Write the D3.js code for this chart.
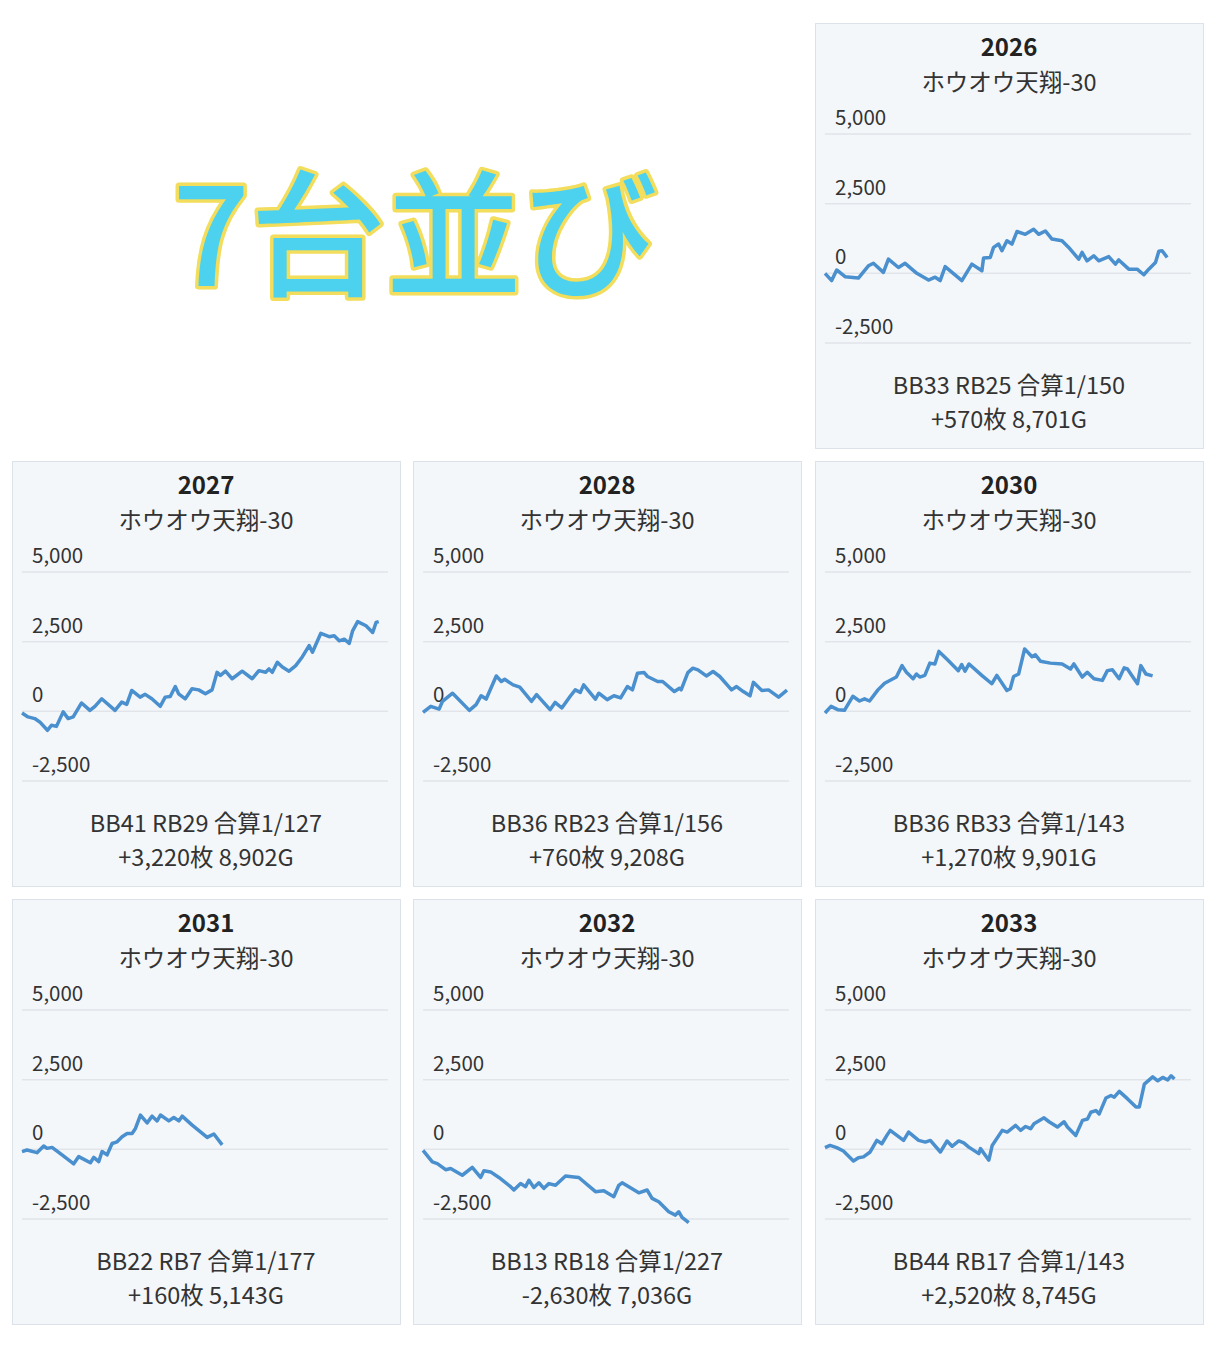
<!DOCTYPE html>
<html>
<head>
<meta charset="utf-8">
<script src="https://cdn.jsdelivr.net/npm/d3@7"></script>
<style>
  body { margin: 0; background: #fff; }
  text { font-family: "Noto Sans CJK JP", "Noto Sans", sans-serif; }
</style>
</head>
<body>
<svg id="chart" width="1216" height="1346"></svg>
<script>
// machines (panel order) and footer stats
var machines = ["2026", "2027", "2028", "2030", "2031", "2032", "2033"];
var modelName = "ホウオウ天翔-30";
var stats1 = ["BB33 RB25 合算1/150", "BB41 RB29 合算1/127", "BB36 RB23 合算1/156", "BB36 RB33 合算1/143",
              "BB22 RB7 合算1/177", "BB13 RB18 合算1/227", "BB44 RB17 合算1/143"];
var stats2 = ["+570枚 8,701G", "+3,220枚 8,902G", "+760枚 9,208G", "+1,270枚 9,901G",
              "+160枚 5,143G", "-2,630枚 7,036G", "+2,520枚 8,745G"];
var yTicks = [5000, 2500, 0, -2500];
// how far along the x axis each line ends
var endFrac = [0.94, 0.98, 1.0, 0.90, 0.55, 0.73, 0.96];

// series: [progress, 枚]
var s2026 = [[30,0],[50,-260],[65,120],[90,-120],[130,-170],[160,270],[175,360],[205,35],[220,510],[250,210],[270,360],[305,0],[340,-240],[360,-140],[375,-260],[390,240],[440,-260],[470,330],[500,95],[505,550],[525,570],[535,930],[550,1050],[560,810],[575,1170],[590,1050],[605,1500],[630,1400],[655,1580],[670,1400],[690,1520],[710,1230],[740,1170],[760,930],[790,510],[800,750],[815,450],[835,630],[850,450],[880,600],[900,330],[910,480],[940,150],[965,150],[985,-50],[1000,150],[1020,390],[1030,790],[1040,810],[1055,570]];
var s2027 = [[32,-60],[50,-200],[70,-260],[85,-380],[108,-680],[120,-500],[135,-540],[155,-20],[170,-260],[185,-200],[210,300],[235,35],[250,180],[270,450],[310,35],[330,330],[345,250],[360,750],[385,510],[400,610],[420,450],[445,180],[460,510],[475,535],[490,890],[500,630],[520,450],[540,810],[560,770],[580,630],[600,770],[615,1400],[625,1290],[640,1440],[660,1170],[690,1440],[720,1170],[740,1460],[760,1400],[770,1520],[780,1400],[795,1760],[810,1590],[830,1440],[850,1640],[870,1960],[890,2360],[900,2120],[925,2800],[950,2680],[965,2710],[980,2530],[995,2590],[1010,2440],[1020,2890],[1035,3220],[1060,3070],[1080,2830],[1090,3190],[1098,3220]];
var s2028 = [[32,-40],[55,180],[80,80],[90,360],[120,650],[170,35],[190,240],[205,560],[220,440],[250,1270],[265,1070],[275,1150],[300,950],[320,870],[355,360],[370,600],[410,60],[425,320],[445,120],[470,540],[485,770],[500,680],[510,950],[545,440],[555,650],[580,420],[600,560],[620,480],[640,890],[655,770],[670,1370],[690,1390],[700,1250],[730,1070],[745,1070],[780,710],[795,830],[800,770],[820,1390],[835,1550],[850,1490],[875,1270],[895,1430],[915,1250],[950,770],[965,890],[985,710],[1005,560],[1015,1040],[1040,750],[1060,770],[1090,510],[1115,760]];
var s2030 = [[32,-60],[50,180],[70,60],[90,35],[115,540],[135,370],[150,450],[165,370],[190,770],[210,1010],[245,1230],[262,1640],[275,1400],[295,1170],[305,1340],[315,1230],[330,1290],[345,1730],[360,1700],[372,2150],[400,1820],[430,1460],[440,1680],[450,1440],[462,1700],[500,1290],[530,990],[545,1290],[575,750],[585,810],[595,1250],[610,1340],[628,2240],[650,1960],[660,2030],[675,1800],[705,1730],[740,1700],[765,1520],[775,1700],[800,1230],[815,1400],[835,1170],[860,1110],[875,1460],[890,1490],[910,1170],[925,1560],[935,1520],[950,1250],[965,990],[975,1640],[990,1340],[1010,1270]];
var s2031 = [[30,-80],[45,-25],[75,-120],[95,120],[105,35],[120,70],[150,-200],[185,-520],[200,-260],[235,-480],[245,-290],[260,-440],[270,-80],[285,-200],[300,210],[315,270],[330,450],[345,570],[360,570],[370,750],[385,1230],[405,950],[420,1190],[435,1020],[445,1230],[470,1020],[485,1140],[500,1020],[510,1190],[540,870],[585,430],[605,550],[630,160]];
var s2032 = [[32,-35],[60,-450],[75,-510],[100,-730],[115,-690],[150,-930],[180,-650],[205,-1010],[215,-770],[235,-810],[260,-1010],[295,-1340],[305,-1460],[325,-1230],[340,-1340],[350,-1110],[365,-1370],[380,-1200],[395,-1400],[410,-1230],[430,-1290],[460,-960],[485,-990],[500,-1010],[550,-1520],[575,-1490],[605,-1700],[620,-1290],[630,-1200],[680,-1560],[705,-1460],[720,-1760],[740,-1880],[770,-2240],[790,-2360],[800,-2240],[810,-2440],[830,-2630]];
var s2033 = [[30,60],[45,140],[65,60],[85,-60],[115,-420],[130,-300],[145,-270],[165,-95],[185,320],[200,200],[215,500],[225,680],[265,320],[280,620],[310,320],[330,260],[345,320],[375,-95],[395,300],[410,110],[430,300],[445,230],[460,80],[490,-155],[495,25],[520,-390],[530,140],[560,680],[575,620],[600,860],[615,680],[630,820],[645,740],[655,920],[685,1130],[700,990],[725,800],[745,990],[755,800],[780,500],[800,1040],[815,1090],[825,1330],[840,1390],[850,1270],[870,1840],[885,1930],[895,1870],[910,2080],[935,1810],[960,1520],[970,1520],[985,2340],[1010,2600],[1025,2460],[1040,2580],[1055,2490],[1065,2640],[1075,2520]];
var series = [s2026, s2027, s2028, s2030, s2031, s2032, s2033];

// grid positions of panels [col,row]
var slots = [[2,0],[0,1],[1,1],[2,1],[0,2],[1,2],[2,2]];
var colX = [12, 413, 815], rowY = [23, 461, 899];
var pw = 388, ph = 425;

var svg = d3.select("#chart");

// big title
svg.append("text")
    .attr("x", 415).attr("y", 286)
    .attr("text-anchor", "middle")
    .style("font-size", "136px").style("font-weight", 500)
    .attr("fill", "#4cd2ee").attr("stroke", "#f2dd5c").attr("stroke-width", 7)
    .attr("paint-order", "stroke").attr("stroke-linejoin", "round")
    .text("7台並び");

var y = d3.scaleLinear().domain([-2500, 5000]).range([320, 111]);
var fmt = function(t) { return d3.format(",")(t).replace("−", "-"); };

machines.forEach(function(m, i) {
    var g = svg.append("g")
        .attr("transform", "translate(" + colX[slots[i][0]] + "," + rowY[slots[i][1]] + ")");

    g.append("rect").attr("x", 0.5).attr("y", 0.5).attr("width", pw).attr("height", ph)
        .attr("fill", "#f4f7fa").attr("stroke", "#dbe2ea");

    g.append("text").attr("x", pw / 2).attr("y", 33).attr("text-anchor", "middle")
        .style("font-size", "24px").style("font-weight", 700).attr("fill", "#222").text(m);
    g.append("text").attr("x", pw / 2).attr("y", 68).attr("text-anchor", "middle")
        .style("font-size", "23.5px").attr("fill", "#333").text(modelName);

    yTicks.forEach(function(t) {
        g.append("line").attr("x1", 10).attr("x2", 376)
            .attr("y1", y(t)).attr("y2", y(t))
            .attr("stroke", "#e1e5ea").attr("stroke-width", 1.5);
        g.append("text").attr("x", 20).attr("y", y(t) - 9)
            .style("font-size", "20.5px").attr("fill", "#333")
            .text(fmt(t));
    });

    var d = series[i];
    var x0 = d[0][0], x1 = d[d.length - 1][0];
    var x = d3.scaleLinear().domain([x0, x0 + (x1 - x0) / endFrac[i]]).range([10, 374]);
    var line = d3.line().x(function(p) { return x(p[0]); }).y(function(p) { return y(p[1]); });
    g.append("path").datum(d).attr("d", line)
        .attr("fill", "none").attr("stroke", "#4a8fce").attr("stroke-width", 3.5)
        .attr("stroke-linejoin", "round");

    g.append("text").attr("x", pw / 2).attr("y", 371).attr("text-anchor", "middle")
        .style("font-size", "23.5px").attr("fill", "#333").text(stats1[i]);
    g.append("text").attr("x", pw / 2).attr("y", 405).attr("text-anchor", "middle")
        .style("font-size", "23.5px").attr("fill", "#333").text(stats2[i]);
});
</script>
</body>
</html>
